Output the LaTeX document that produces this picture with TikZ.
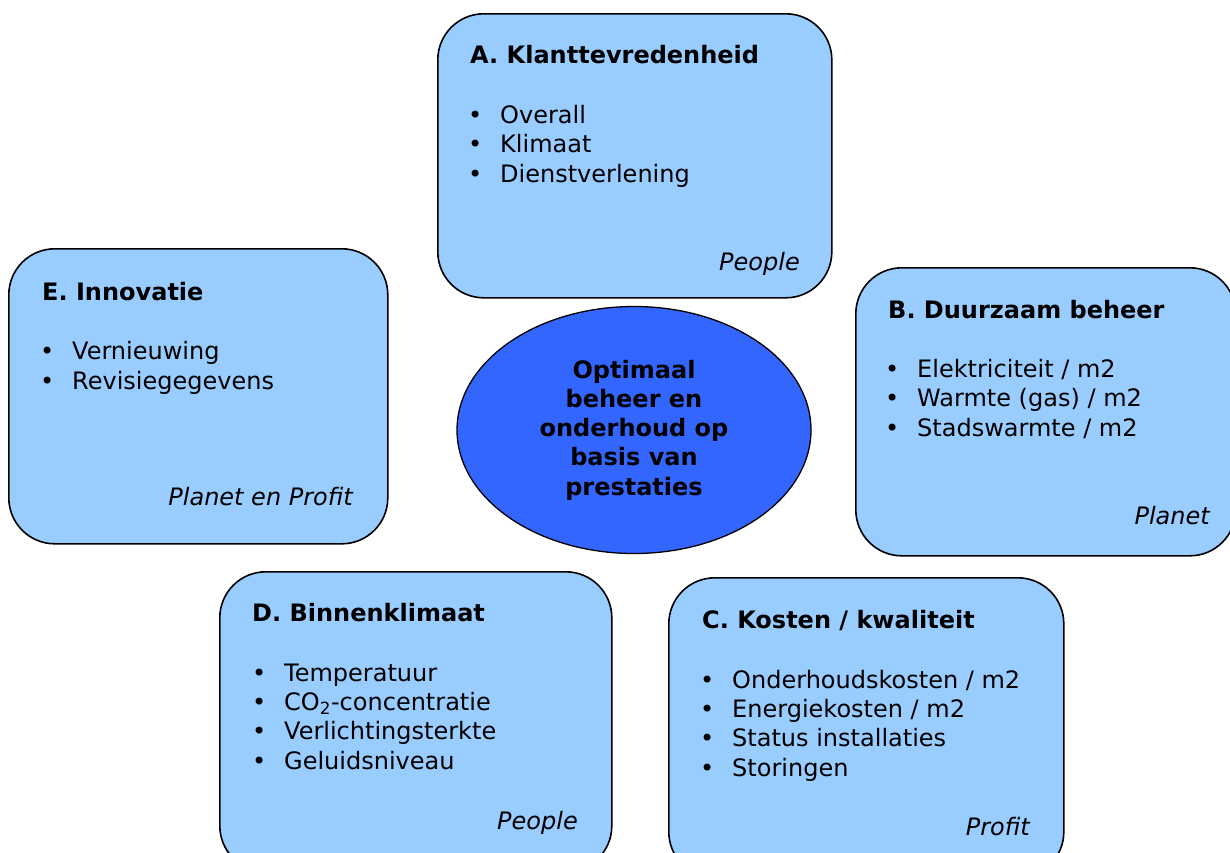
\documentclass[tikz,border=0pt]{standalone}
\usepackage{fontspec}
\setmainfont{DejaVu Sans}
\usetikzlibrary{positioning, shapes.geometric}
\definecolor{boxblue}{HTML}{99CCFF}
\definecolor{coreblue}{HTML}{3366FF}
\newcommand{\kpifont}{\fontsize{24}{29.3}\selectfont}
\newcommand{\bul}{\makebox[32pt][l]{\textbullet}}
\tikzset{
  box/.style={draw, line width=1.6pt, fill=boxblue, rounded corners=46pt, anchor=north west, inner sep=0pt},
  core/.style={ellipse, draw, line width=1.3pt, fill=coreblue, minimum width=354pt, minimum height=247pt, align=center, font=\kpifont\bfseries},
  title/.style={anchor=base west, inner sep=0pt, font=\kpifont\bfseries},
  items/.style={anchor=base west, inner sep=0pt, align=left, font=\kpifont},
  tag/.style={anchor=base east, inner sep=0pt, font=\kpifont\itshape}
}

\begin{document}
\begin{tikzpicture}[x=1pt, y=-1pt]
        \useasboundingbox (0,0) rectangle (1230,852);

		\foreach \name/\x/\y/\w/\h in {A/437/13/394/284, E/8/248/379/295, B/855/267/380/288, D/219/571/392/300, C/668/577/395/300}
		\node[box, minimum width=\w pt, minimum height=\h pt] (\name) at (\x,\y) {};

		\node[core] (core) at (634,430) {Optimaal\\beheer en\\onderhoud op\\basis van\\prestaties};

		% A (items placed at the baseline of their last line)
		\node[title] (A title) at (470,63) {A. Klanttevredenheid};
		\node[items] (A items) at (468,182) {\bul Overall\\\bul Klimaat\\\bul Dienstverlening};
		\node[tag] (A tag) at (800,270) {People};

		% E
		\node[title] (E title) at (42,300) {E. Innovatie};
		\node[items] (E items) at (40,389) {\bul Vernieuwing\\\bul Revisiegegevens};
		\node[tag] (E tag) at (353,505) {Planet en Profit};

		% B
		\node[title] (B title) at (888,318) {B. Duurzaam beheer};
		\node[items] (B items) at (885,436) {\bul Elektriciteit / m2\\\bul Warmte (gas) / m2\\\bul Stadswarmte / m2};
		\node[tag] (B tag) at (1210,524) {Planet};

		% D
		\node[title] (D title) at (252,621) {D. Binnenklimaat};
		\node[items] (D items) at (252,769) {\bul Temperatuur\\\bul CO\textsubscript{2}-concentratie\\\bul Verlichtingsterkte\\\bul Geluidsniveau};
		\node[tag] (D tag) at (578,829) {People};

		% C
		\node[title] (C title) at (702,628) {C. Kosten / kwaliteit};
		\node[items] (C items) at (700,776) {\bul Onderhoudskosten / m2\\\bul Energiekosten / m2\\\bul Status installaties\\\bul Storingen};
		\node[tag] (C tag) at (1030,835) {Profit};

	\end{tikzpicture}
\end{document}
